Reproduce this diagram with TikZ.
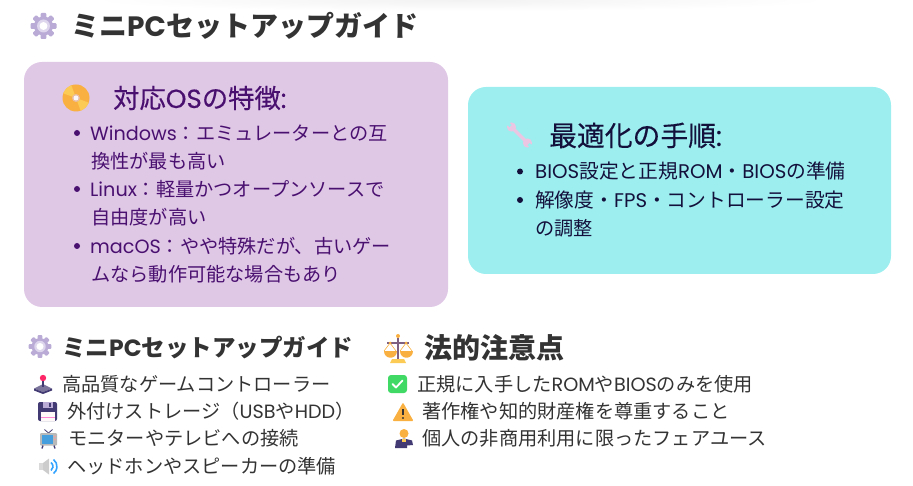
\documentclass[tikz,border=0pt]{standalone}
\usepackage{fontspec}
\setmainfont{Noto Sans CJK JP}
\newfontfamily\lat{Poppins}
\newfontfamily\latmid[FakeBold=0.3]{Poppins}
\newfontfamily\cjkmid[FakeBold=0.3]{Noto Sans CJK JP}
\usepackage{xcolor}
\definecolor{lilac}{HTML}{DFC7E6}
\definecolor{aqua}{HTML}{9CEEEF}
\definecolor{plum}{HTML}{4A1070}
\definecolor{ink}{HTML}{14103C}
\definecolor{coal}{HTML}{333333}
\definecolor{amber}{HTML}{F9B040}
\definecolor{amberlt}{HTML}{FBCB55}
\definecolor{lav}{HTML}{B9ABD6}
\definecolor{lavlt}{HTML}{DDD6EC}
\definecolor{deep}{HTML}{423A72}
\definecolor{pinklt}{HTML}{EBC6E2}
\tikzset{
    txt/.style={anchor=base west, inner sep=0pt},
    box/.style={rounded corners=18pt},
    dot/.style={circle, inner sep=0pt, minimum size=6pt},
    cogicon/.pic={
        \foreach \a in {0, 45, ..., 315} {
            \fill [lav, rotate=\a, rounded corners=1pt] (-2.8, -13) rectangle (2.8, -6);
        }
        \fill [lav] (0, 0) circle (9.5);
        \fill [lavlt] (0, 0) circle (6.5);
        \fill [white] (0, 0) circle (4);
    },
    discicon/.pic={
        \fill [amber] (0, 0) circle (13.5);
        \fill [amberlt] (0, 0) -- (20:13.5) arc (20:70:13.5) -- cycle;
        \fill [amberlt] (0, 0) -- (200:13.5) arc (200:250:13.5) -- cycle;
        \fill [lilac!60!amber] (0, 0) circle (4);
        \fill [white!85!lilac] (0, 0) circle (2.5);
    },
    wrenchicon/.pic={
        \draw [pinklt, line width=3.5pt] (-8, -8) -- (8, 8);
        \fill [pinklt] (-8, -8) circle (4.6) (8, 8) circle (4.6);
        \draw [aqua, line width=3pt] (-13.5, -13.5) -- (-9, -9) (13.5, 13.5) -- (9, 9);
    },
    stickicon/.pic={
        \fill [deep!70] (-9, 4.5) -- (0, 0) -- (9, 4.5) -- (0, 8) -- cycle;
        \fill [deep] (-9, 4.5) -- (0, 8) -- (9, 4.5) -- (9, 6.5) -- (0, 10) -- (-9, 6.5) -- cycle;
        \draw [deep, line width=2.4pt] (0, -5) -- (0, 3);
        \fill [red!70!magenta!85] (0, -6) circle (3.2);
    },
    floppyicon/.pic={
        \fill [deep, rounded corners=2pt] (-9.5, -9.5) rectangle (9.5, 9.5);
        \fill [lav] (-5, -9.5) rectangle (5, -3.5);
        \fill [deep] (1, -8.5) rectangle (3, -4.5);
        \fill [white!90!pink] (-7, 0) rectangle (7, 9.5);
        \fill [pink!70!magenta] (-7, 5) rectangle (7, 6.5);
    },
    tvicon/.pic={
        \draw [deep, line width=0.8pt] (0, -6) -- (-4, -9.5) (0, -6) -- (4, -9.5);
        \fill [gray!55, rounded corners=1pt] (-8.5, -6) rectangle (8.5, 6.5);
        \fill [cyan!70!blue!75] (-6.5, -4) rectangle (4.5, 4.5);
        \fill [pink!80!red] (6.5, -2.5) circle (0.9) (6.5, 0.5) circle (0.9);
        \draw [deep, line width=1.4pt] (-5.5, 6.5) -- (-6.5, 9.5) (5.5, 6.5) -- (6.5, 9.5);
    },
    volicon/.pic={
        \fill [gray!30] (-9, -3.5) rectangle (-5, 3.5);
        \fill [gray!40] (-5, -3.5) -- (1, -8) -- (1, 8) -- (-5, 3.5) -- cycle;
        \draw [blue!45!cyan!80, line width=1.6pt] (3, -4) arc (-53:53:5);
        \draw [blue!45!cyan!80, line width=1.6pt] (5.5, -7) arc (-53:53:8.75);
    },
    scaleicon/.pic={
        \draw [gray!75!violet, line width=1.5pt] (0, -11) -- (0, 10);
        \draw [gray!75!violet, line width=1.2pt] (-11, -6) -- (11, -6);
        \fill [amber] (0, -13) circle (2) (-8, -6) circle (1.5) (8, -6) circle (1.5);
        \draw [amber, line width=0.6pt] (-14, 2) -- (-8, -6) -- (-2, 2) (14, 2) -- (8, -6) -- (2, 2);
        \fill [amber] (-14.5, 2) .. controls (-14.5, 10.5) and (-1.5, 10.5) .. (-1.5, 2) -- cycle;
        \fill [amber] (1.5, 2) .. controls (1.5, 10.5) and (14.5, 10.5) .. (14.5, 2) -- cycle;
        \fill [amberlt] (-6, 10) -- (6, 10) -- (8, 14) -- (-8, 14) -- cycle;
    },
    checkicon/.pic={
        \fill [green!60!teal!75, rounded corners=3pt] (-9.5, -9) rectangle (9.5, 9);
        \draw [white, line width=1.8pt, line cap=round, line join=round] (-5, 0) -- (-1.5, 3.5) -- (5, -3.5);
    },
    warnicon/.pic={
        \fill [amber, rounded corners=1pt] (0, -9.5) -- (10.5, 9) -- (-10.5, 9) -- cycle;
        \draw [coal, line width=1.8pt] (0, -3) -- (0, 3);
        \fill [coal] (0, 6) circle (1.1);
    },
    judgeicon/.pic={
        \fill [deep] (-9, 9.5) -- (-8, 2) -- (0, 0) -- (8, 2) -- (9, 6.5) -- (3, 7) -- (3, 9.5) -- cycle;
        \fill [amber] (0, -5) circle (4.5);
        \fill [amberlt] (-2, 0) rectangle (2, 3);
    }
}

\begin{document}
\begin{tikzpicture}[x=1pt, y=-1pt]
    \useasboundingbox (0, 0) rectangle (913, 486);

    \shade [inner color=black!5, outer color=white] (460, 0) ellipse (370 and 11);

    \fill [lilac, box] (24, 62) rectangle (448, 307);
    \fill [aqua, box] (468, 87) rectangle (891, 274);

    \pic at (43.5, 26) {cogicon};
    \node [txt, color=coal, font=\bfseries\fontsize{28}{28}\selectfont] (title) at (71, 37) {ミニ{\lat PC}セットアップガイド};

    \pic at (76, 98) {discicon};
    \node [txt, color=plum, font=\cjkmid\fontsize{26.3}{27}\selectfont] (headA) at (113, 108) {対応{\latmid OS}の特徴{\latmid :}};
    \foreach \name/\y in {win/133, lin/189, mac/246} {
        \node [dot, fill=plum] (\name) at (77, \y) {};
    }
    \foreach \name/\x/\y/\line in {
        tA/90/141/{{\lat Windows}：エミュレーターとの互},
        tB/91/169/{換性が最も高い},
        tC/90/197/{{\lat Linux}：軽量かつオープンソースで},
        tD/91/225/{自由度が高い},
        tE/90/254/{{\lat macOS}：やや特殊だが、古いゲー},
        tF/91/282/{ムなら動作可能な場合もあり}} {
        \node [txt, color=plum, font=\fontsize{19.2}{20}\selectfont] (\name) at (\x, \y) {\line};
    }

    \pic at (519.5, 135) {wrenchicon};
    \node [txt, color=ink, font=\cjkmid\fontsize{27.8}{28}\selectfont] (headB) at (549, 146) {最適化の手順{\latmid :}};
    \foreach \name/\y in {bios/171.5, res/200} {
        \node [dot, fill=ink] (\name) at (520, \y) {};
    }
    \foreach \name/\y/\s/\line in {
        tG/179/19.75/{{\lat BIOS}設定と正規{\lat ROM}・{\lat BIOS}の準備},
        tH/208/19.75/{解像度・{\lat FPS}・コントローラー設定},
        tI/236/19.2/{の調整}} {
        \node [txt, color=ink, font=\fontsize{\s}{20}\selectfont] (\name) at (535, \y) {\line};
    }

    \pic [scale=0.88] at (40, 346.5) {cogicon};
    \node [txt, color=coal, font=\bfseries\fontsize{23.5}{24}\selectfont] (setup) at (62, 356.5) {ミニ{\lat PC}セットアップガイド};
    \pic at (43, 384) {stickicon};
    \pic at (47.5, 411.5) {floppyicon};
    \pic at (48.5, 439) {tvicon};
    \pic at (48, 466.5) {volicon};
    \foreach \name/\x/\y/\line in {
        tJ/62/391.5/{高品質なゲームコントローラー},
        tK/67/418.5/{外付けストレージ（{\lat USB}や{\lat HDD}）},
        tL/68/445.5/{モニターやテレビへの接続},
        tM/67/473/{ヘッドホンやスピーカーの準備}} {
        \node [txt, color=coal, font=\fontsize{19.2}{20}\selectfont] (\name) at (\x, \y) {\line};
    }

    \pic at (398, 349) {scaleicon};
    \node [txt, color=coal, font=\bfseries\fontsize{28}{28}\selectfont] (legal) at (424, 358) {法的注意点};
    \pic at (397.5, 384) {checkicon};
    \pic at (403, 412) {warnicon};
    \pic at (404, 438.5) {judgeicon};
    \foreach \name/\x/\y/\line in {
        tN/417/391.5/{正規に入手した{\lat ROM}や{\lat BIOS}のみを使用},
        tO/422/418.5/{著作権や知的財産権を尊重すること},
        tP/422/445.5/{個人の非商用利用に限ったフェアユース}} {
        \node [txt, color=coal, font=\fontsize{19.2}{20}\selectfont] (\name) at (\x, \y) {\line};
    }

\end{tikzpicture}
\end{document}
